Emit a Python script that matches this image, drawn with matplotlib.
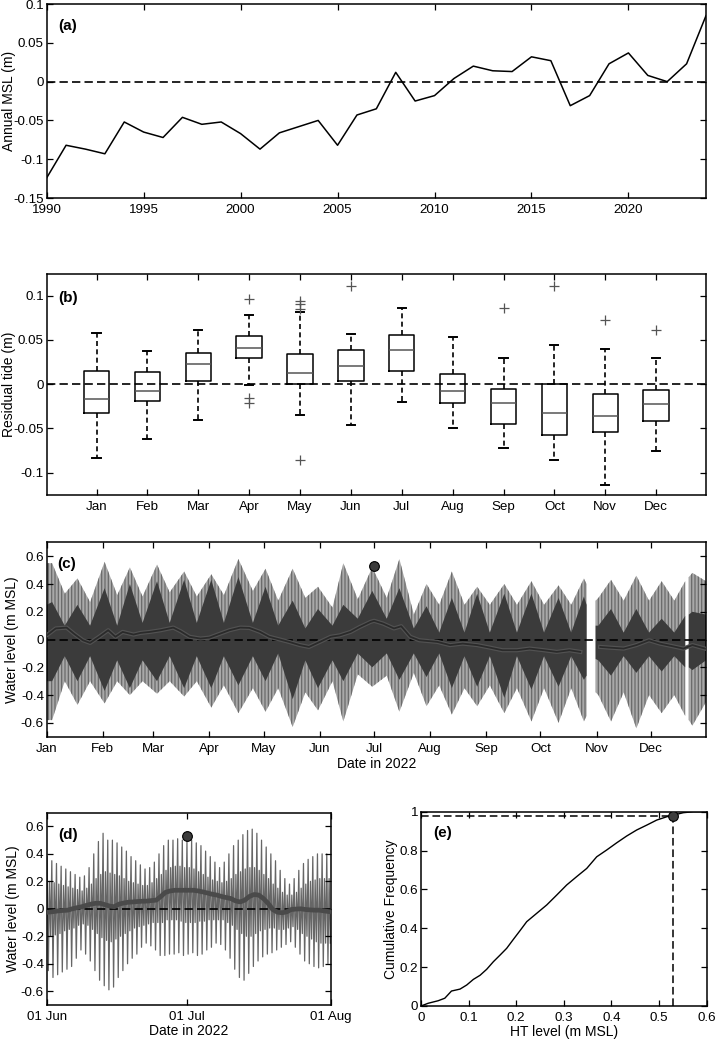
"""
Five-panel tide figure: annual MSL, monthly residual boxplots,
water level in 2022, a June-July close-up and the HT cumulative curve.
"""
from datetime import datetime

import matplotlib

matplotlib.use("Agg")
import matplotlib.dates as mdates
import matplotlib.pyplot as plt
import numpy as np
from matplotlib.ticker import FuncFormatter

nan = np.nan

# ---- (a) annual mean sea level -------------------------------------------
years = list(range(1990, 2025))
annual_msl = [-0.124, -0.082, -0.087, -0.093, -0.052, -0.065, -0.072, -0.046,
              -0.055, -0.052, -0.067, -0.087, -0.066, -0.058, -0.050, -0.082,
              -0.043, -0.035, 0.012, -0.025, -0.018, 0.004, 0.020, 0.014,
              0.013, 0.032, 0.027, -0.031, -0.018, 0.023, 0.037, 0.008,
              0.000, 0.023, 0.085]

# ---- (b) monthly residual tide -------------------------------------------
months = ["Jan", "Feb", "Mar", "Apr", "May", "Jun",
          "Jul", "Aug", "Sep", "Oct", "Nov", "Dec"]
b_whislo = [-0.084, -0.062, -0.040, -0.001, -0.035, -0.046,
            -0.020, -0.050, -0.072, -0.086, -0.114, -0.076]
b_q1 = [-0.033, -0.019, 0.003, 0.030, 0.000, 0.003,
        0.015, -0.021, -0.045, -0.058, -0.054, -0.042]
b_med = [-0.017, -0.008, 0.023, 0.041, 0.013, 0.020,
         0.039, -0.008, -0.021, -0.033, -0.036, -0.022]
b_q3 = [0.015, 0.014, 0.035, 0.054, 0.034, 0.039,
        0.056, 0.011, -0.005, 0.000, -0.011, -0.007]
b_whishi = [0.058, 0.038, 0.061, 0.078, 0.082, 0.057,
            0.086, 0.053, 0.029, 0.044, 0.040, 0.029]
b_fliers = [[], [], [], [0.096, -0.016, -0.021], [0.094, 0.090, 0.085, -0.086],
            [0.111], [], [], [0.086], [0.111], [0.073], [0.061]]

# ---- (c) 2022 water level envelopes (day of year) ------------------------
c_env_days = [0, 3, 10, 17, 24, 32, 39, 46, 53, 61, 68, 76, 83, 91, 98, 106,
              114, 121, 128, 136, 143, 150, 158, 164, 172, 180, 188, 195, 203,
              210, 217, 224, 231, 238, 245, 253, 260, 268, 275, 283, 290, 297,
              298.5, 300, 303.5, 305, 312, 319, 326, 333, 340, 347, 353, 354,
              355, 357, 364.5]
c_outer_hi = [0.55, 0.55, 0.33, 0.44, 0.27, 0.56, 0.32, 0.52, 0.31, 0.54, 0.34,
              0.49, 0.31, 0.47, 0.32, 0.58, 0.35, 0.51, 0.28, 0.51, 0.30, 0.38,
              0.23, 0.55, 0.29, 0.52, 0.30, 0.58, 0.18, 0.40, 0.25, 0.49, 0.25,
              0.38, 0.25, 0.40, 0.25, 0.42, 0.25, 0.39, 0.25, 0.44, 0.40, nan,
              0.28, 0.30, 0.43, 0.28, 0.46, 0.28, 0.42, 0.28, 0.42, nan, 0.45,
              0.48, 0.42]
c_outer_lo = [-0.58, -0.58, -0.30, -0.47, -0.30, -0.46, -0.30, -0.40, -0.30,
              -0.39, -0.30, -0.41, -0.30, -0.49, -0.33, -0.53, -0.35, -0.52,
              -0.35, -0.63, -0.38, -0.51, -0.30, -0.59, -0.25, -0.34, -0.26,
              -0.52, -0.24, -0.48, -0.33, -0.54, -0.35, -0.48, -0.33, -0.53,
              -0.35, -0.59, -0.35, -0.60, -0.35, -0.59, -0.55, nan, -0.38,
              -0.40, -0.59, -0.38, -0.64, -0.40, -0.53, -0.40, -0.55, nan,
              -0.58, -0.62, -0.45]
c_inner_hi = [0.25, 0.27, 0.10, 0.25, 0.10, 0.37, 0.10, 0.40, 0.12, 0.42, 0.12,
              0.43, 0.12, 0.43, 0.12, 0.45, 0.12, 0.38, 0.10, 0.28, 0.08, 0.22,
              0.10, 0.25, 0.15, 0.35, 0.15, 0.37, 0.08, 0.24, 0.05, 0.30, 0.05,
              0.33, 0.05, 0.33, 0.05, 0.33, 0.05, 0.30, 0.05, 0.31, 0.25, nan,
              0.10, 0.10, 0.22, 0.05, 0.22, 0.05, 0.15, 0.05, 0.17, nan, 0.18,
              0.20, 0.18]
c_inner_lo = [-0.30, -0.30, -0.12, -0.30, -0.12, -0.37, -0.15, -0.35, -0.15,
              -0.30, -0.12, -0.35, -0.12, -0.35, -0.12, -0.33, -0.12, -0.30,
              -0.10, -0.43, -0.15, -0.35, -0.15, -0.30, -0.10, -0.20, -0.10,
              -0.29, -0.10, -0.27, -0.10, -0.35, -0.12, -0.34, -0.12, -0.42,
              -0.12, -0.36, -0.12, -0.34, -0.12, -0.29, -0.26, nan, -0.14,
              -0.15, -0.26, -0.12, -0.24, -0.12, -0.23, -0.12, -0.20, nan,
              -0.20, -0.22, -0.15]
c_msl_days = [0, 5, 11, 15, 20, 24, 29, 34, 38, 42, 48, 52, 57, 63, 70, 74, 79,
              85, 90, 96, 101, 107, 112, 118, 123, 129, 134, 140, 145, 151, 157,
              162, 168, 173, 179, 181, 186, 192, 196, 201, 206, 216, 223, 230,
              238, 245, 252, 260, 267, 275, 282, 289, 295, 300, 306, 311, 319,
              326, 333, 339, 346, 352, 357, 364]
c_msl = [0.03, 0.08, 0.086, 0.043, -0.005, -0.024, 0.02, 0.067, 0.02, 0.055,
         0.036, 0.048, 0.055, 0.067, 0.086, 0.06, 0.02, 0.007, 0.014, 0.043,
         0.067, 0.086, 0.084, 0.055, 0.02, 0.0, -0.017, -0.04, -0.053, -0.017,
         0.02, 0.03, 0.055, 0.09, 0.127, 0.135, 0.115, 0.08, 0.096, 0.02,
         -0.005, -0.017, -0.04, -0.029, -0.04, -0.058, -0.077, -0.077, -0.065,
         -0.077, -0.089, -0.077, -0.089, nan, -0.053, -0.058, -0.065, -0.04,
         -0.005, -0.029, -0.048, -0.065, -0.04, -0.065]

# highlighted high tide (1 Jul 2022)
event_date = datetime(2022, 7, 1)
event_level = 0.53

# ---- (d) daily tidal extremes, 1 Jun - 31 Jul 2022 -----------------------
d_hhw = [0.38, 0.35, 0.33, 0.31, 0.29, 0.27, 0.25, 0.23, 0.24, 0.30,
         0.40, 0.49, 0.55, 0.50, 0.50, 0.48, 0.45, 0.42, 0.38, 0.35,
         0.32, 0.29, 0.30, 0.34, 0.40, 0.46, 0.50, 0.50, 0.51, 0.50,
         0.49, 0.50, 0.48, 0.46, 0.42, 0.38, 0.34, 0.30, 0.34, 0.40,
         0.46, 0.50, 0.54, 0.57, 0.58, 0.55, 0.50, 0.45, 0.40, 0.35,
         0.28, 0.22, 0.18, 0.22, 0.28, 0.33, 0.36, 0.38, 0.40, 0.40, 0.40]
d_llw = [-0.45, -0.50, -0.48, -0.46, -0.44, -0.42, -0.36, -0.30, -0.33, -0.38,
         -0.45, -0.52, -0.56, -0.59, -0.57, -0.50, -0.45, -0.40, -0.36, -0.33,
         -0.28, -0.25, -0.27, -0.30, -0.34, -0.34, -0.33, -0.33, -0.32, -0.34,
         -0.33, -0.32, -0.34, -0.33, -0.30, -0.28, -0.25, -0.26, -0.30, -0.36,
         -0.44, -0.50, -0.52, -0.47, -0.42, -0.38, -0.35, -0.33, -0.32, -0.30,
         -0.28, -0.26, -0.24, -0.28, -0.33, -0.38, -0.40, -0.42, -0.43, -0.42,
         -0.40]
d_lhw = [0.20, 0.19, 0.18, 0.17, 0.16, 0.15, 0.14, 0.13, 0.15, 0.18,
         0.22, 0.25, 0.27, 0.26, 0.25, 0.24, 0.22, 0.20, 0.19, 0.18,
         0.17, 0.17, 0.19, 0.22, 0.25, 0.28, 0.30, 0.31, 0.31, 0.30,
         0.30, 0.29, 0.27, 0.25, 0.23, 0.21, 0.20, 0.19, 0.20, 0.22,
         0.25, 0.27, 0.29, 0.30, 0.30, 0.28, 0.25, 0.22, 0.18, 0.15,
         0.12, 0.10, 0.10, 0.12, 0.15, 0.18, 0.20, 0.21, 0.22, 0.22, 0.22]
d_hlw = [-0.20, -0.19, -0.18, -0.16, -0.15, -0.14, -0.12, -0.11, -0.12, -0.15,
         -0.18, -0.21, -0.23, -0.24, -0.22, -0.20, -0.18, -0.16, -0.14, -0.13,
         -0.12, -0.11, -0.10, -0.10, -0.10, -0.08, -0.08, -0.08, -0.09, -0.10,
         -0.10, -0.10, -0.09, -0.09, -0.08, -0.08, -0.08, -0.08, -0.10, -0.12,
         -0.15, -0.18, -0.20, -0.20, -0.18, -0.16, -0.15, -0.14, -0.14, -0.15,
         -0.15, -0.14, -0.13, -0.15, -0.18, -0.20, -0.22, -0.24, -0.25, -0.25,
         -0.25]
d_msl = [-0.024, -0.020, -0.015, -0.012, -0.010, 0.000, 0.008, 0.015, 0.025,
         0.034, 0.040, 0.040, 0.030, 0.020, 0.015, 0.034, 0.042, 0.048, 0.050,
         0.053, 0.055, 0.056, 0.060, 0.063, 0.090, 0.120, 0.130, 0.135, 0.135,
         0.135, 0.135, 0.135, 0.130, 0.123, 0.115, 0.106, 0.100, 0.090, 0.082,
         0.075, 0.058, 0.050, 0.063, 0.090, 0.104, 0.100, 0.075, 0.040, -0.005,
         -0.024, -0.029, -0.022, -0.005, -0.002, 0.000, -0.005, -0.008, -0.010,
         -0.010, -0.015, -0.020]

# ---- (e) cumulative frequency of HT level --------------------------------
e_level = [0.0, 0.015, 0.036, 0.05, 0.064, 0.082, 0.096, 0.11, 0.124, 0.138,
           0.152, 0.166, 0.18, 0.194, 0.208, 0.222, 0.243, 0.264, 0.285, 0.306,
           0.327, 0.348, 0.369, 0.39, 0.411, 0.432, 0.453, 0.474, 0.495, 0.516,
           0.534, 0.551, 0.572, 0.6]
e_cum = [0.0, 0.014, 0.027, 0.04, 0.077, 0.087, 0.108, 0.137, 0.158, 0.189,
         0.228, 0.262, 0.297, 0.343, 0.388, 0.434, 0.477, 0.52, 0.571, 0.623,
         0.666, 0.708, 0.768, 0.803, 0.84, 0.875, 0.906, 0.931, 0.957, 0.974,
         0.985, 0.995, 1.0, 1.0]
e_thresh_cum = 0.978

plt.rcParams["font.family"] = ["Liberation Sans", "DejaVu Sans"]
plt.rcParams["axes.unicode_minus"] = False
plt.rcParams["hatch.linewidth"] = 0.9

TICK_FS = 9.6
LABEL_FS = 10
num_fmt = FuncFormatter(lambda v, _: f"{round(v, 6) + 0:g}")
DASH = (5, 2.5)
DOT = dict(marker="o", ms=7, mfc="#3c3c3c", mec="k", mew=0.8, zorder=6)


def style(ax):
    ax.tick_params(direction="in", top=True, right=True, length=4.5,
                   width=0.9, labelsize=TICK_FS)
    ax.tick_params(axis="x", pad=4.5)
    ax.tick_params(axis="y", pad=2)
    for sp in ax.spines.values():
        sp.set_linewidth(1.1)


def panel_label(ax, text, x, y):
    ax.text(x, y, text, transform=ax.transAxes, fontsize=11,
            fontweight="bold", ha="left", va="center", zorder=10)


fig = plt.figure(figsize=(7.15, 10.4), dpi=100)

# (a)
ax = fig.add_axes([0.0653, 0.8096, 0.9221, 0.1865])
ax.plot(years, annual_msl, color="k", lw=1.1)
ax.axhline(0, color="k", lw=1.2, dashes=DASH)
ax.set_xlim(1990, 2024)
ax.set_ylim(-0.15, 0.1)
ax.set_xticks(range(1990, 2021, 5))
ax.set_yticks([-0.15, -0.1, -0.05, 0, 0.05, 0.1])
ax.yaxis.set_major_formatter(num_fmt)
ax.set_ylabel("Annual MSL (m)", fontsize=LABEL_FS)
ax.yaxis.set_label_coords(-0.047, 0.5)
style(ax)
panel_label(ax, "(a)", 0.018, 0.885)

# (b)
ax = fig.add_axes([0.0653, 0.5243, 0.9221, 0.2127])
stats = [dict(med=m, q1=a, q3=b, whislo=lo, whishi=hi, fliers=f)
         for m, a, b, lo, hi, f in zip(b_med, b_q1, b_q3, b_whislo,
                                       b_whishi, b_fliers)]
ax.axhline(0, color="k", lw=1.2, dashes=DASH, zorder=1)
ax.bxp(stats, positions=range(1, 13), widths=0.5, capwidths=0.16,
       manage_ticks=False,
       boxprops=dict(color="k", lw=1.1),
       whiskerprops=dict(color="k", lw=1.2, linestyle=(0, (3, 2))),
       capprops=dict(color="k", lw=1.4),
       medianprops=dict(color="#555555", lw=1.1),
       flierprops=dict(marker="+", markeredgecolor="#555555", markersize=7,
                       markeredgewidth=0.9, linestyle="none"))
ax.set_xticks(range(1, 13), months)
ax.set_xlim(0.02, 12.98)
ax.set_ylim(-0.125, 0.125)
ax.set_yticks([-0.1, -0.05, 0, 0.05, 0.1])
ax.yaxis.set_major_formatter(num_fmt)
ax.set_ylabel("Residual tide (m)", fontsize=LABEL_FS)
ax.yaxis.set_label_coords(-0.047, 0.5)
style(ax)
panel_label(ax, "(b)", 0.018, 0.89)

# (c)
t0 = mdates.date2num(datetime(2022, 1, 1))
ax = fig.add_axes([0.0653, 0.2916, 0.9221, 0.1869])
xc = t0 + np.array(c_env_days)
ax.fill_between(xc, c_outer_lo, c_outer_hi, facecolor="#a9a9a9",
                edgecolor="#6a6a6a", hatch="|||||", linewidth=0, zorder=1)
ax.fill_between(xc, c_inner_lo, c_inner_hi, color="#3b3b3b", linewidth=0,
                zorder=2)
ax.axhline(0, color="k", lw=1.2, dashes=DASH, zorder=3)
xm = t0 + np.array(c_msl_days)
ax.plot(xm, c_msl, color="#525252", lw=3.0, zorder=4)
ax.plot(xm, c_msl, color="#2a2a2a", lw=1.3, zorder=5)
ax.plot(mdates.date2num(event_date), event_level, **DOT)
ax.xaxis.set_major_locator(mdates.MonthLocator())
ax.xaxis.set_major_formatter(mdates.DateFormatter("%b"))
ax.set_xlim(t0, t0 + 364.5)
ax.set_ylim(-0.7, 0.7)
ax.set_yticks([-0.6, -0.4, -0.2, 0, 0.2, 0.4, 0.6])
ax.yaxis.set_major_formatter(num_fmt)
ax.set_xlabel("Date in 2022", fontsize=LABEL_FS, labelpad=1.5)
ax.set_ylabel("Water level (m MSL)", fontsize=LABEL_FS)
ax.yaxis.set_label_coords(-0.042, 0.5)
style(ax)
panel_label(ax, "(c)", 0.016, 0.888)

# (d)
t_jun = mdates.date2num(datetime(2022, 6, 1))
t_jul = mdates.date2num(datetime(2022, 7, 1))
t_aug = mdates.date2num(datetime(2022, 8, 1))
ax = fig.add_axes([0.0653, 0.0337, 0.3976, 0.1849])
day_x = t_jun + np.arange(len(d_hhw))
tide_t = (day_x[:, None] + np.array([0.1, 0.35, 0.6, 0.85])).ravel()
tide_h = np.column_stack([d_hhw, d_llw, d_lhw, d_hlw]).ravel()
ax.plot(tide_t, tide_h, color="#666666", lw=0.9, zorder=1)
ax.axhline(0, color="k", lw=1.2, dashes=DASH, zorder=2)
ax.plot(day_x + 0.5, d_msl, color="#4a4a4a", lw=3.4, zorder=3)
ax.plot(mdates.date2num(event_date), event_level, **DOT)
ax.set_xticks([t_jun, t_jul, t_aug], ["01 Jun", "01 Jul", "01 Aug"])
ax.set_xlim(t_jun, t_aug)
ax.set_ylim(-0.7, 0.7)
ax.set_yticks([-0.6, -0.4, -0.2, 0, 0.2, 0.4, 0.6])
ax.yaxis.set_major_formatter(num_fmt)
ax.set_xlabel("Date in 2022", fontsize=LABEL_FS, labelpad=0.5)
ax.set_ylabel("Water level (m MSL)", fontsize=LABEL_FS)
ax.yaxis.set_label_coords(-0.094, 0.5)
style(ax)
panel_label(ax, "(d)", 0.04, 0.884)

# (e)
ax = fig.add_axes([0.5888, 0.0327, 0.3996, 0.1868])
ax.plot(e_level, e_cum, color="k", lw=1.0)
ax.plot([0, event_level], [e_thresh_cum, e_thresh_cum], color="k", lw=1.1,
        dashes=DASH)
ax.plot([event_level, event_level], [0, e_thresh_cum], color="k", lw=1.1,
        dashes=DASH)
ax.plot(event_level, e_thresh_cum, **DOT)
ax.set_xlim(0, 0.6)
ax.set_ylim(0, 1)
ax.set_xticks([0, 0.1, 0.2, 0.3, 0.4, 0.5, 0.6])
ax.set_yticks([0, 0.2, 0.4, 0.6, 0.8, 1])
ax.xaxis.set_major_formatter(num_fmt)
ax.yaxis.set_major_formatter(num_fmt)
ax.set_xlabel("HT level (m MSL)", fontsize=LABEL_FS, labelpad=0.5)
ax.set_ylabel("Cumulative Frequency", fontsize=LABEL_FS)
ax.yaxis.set_label_coords(-0.08, 0.5)
style(ax)
panel_label(ax, "(e)", 0.042, 0.89)

fig.savefig("out.png", dpi=100)
plt.close(fig)
